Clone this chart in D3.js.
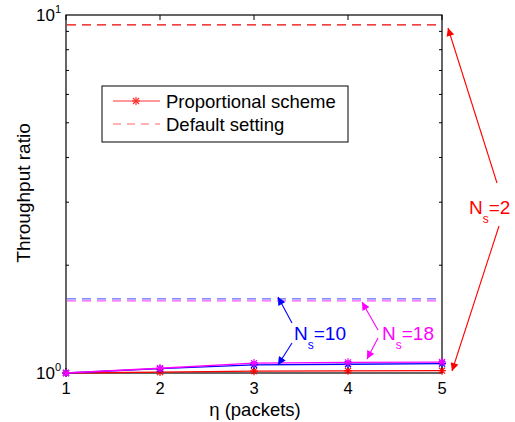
<!DOCTYPE html>
<html><head><meta charset="utf-8">
<script src="https://cdn.jsdelivr.net/npm/d3@7"></script>
<style>body{margin:0;background:#fff}svg{display:block;font-family:"Liberation Sans",Arial,sans-serif}</style>
</head><body><svg id="c" width="515" height="422"></svg>
<script>
const etaValues = [1, 2, 3, 4, 5];
const propNs2 = [1, 1.006, 1.012, 1.014, 1.015];
const propNs10 = [1, 1.028, 1.053, 1.058, 1.062];
const propNs18 = [1, 1.031, 1.066, 1.071, 1.073];
const defaultNs2 = 9.38;
const defaultNs10 = 1.61;
const defaultNs18 = 1.59;
const xTickLabels = ["1", "2", "3", "4", "5"];
const yMajorTicks = [1, 10];
const yMinorTicks = [2, 3, 4, 5, 6, 7, 8, 9];

const svg = d3.select("#c");
const L = 66, R = 442, T = 15, B = 373;
const x = d3.scaleLinear().domain([1, 5]).range([L, R]);
const y = d3.scaleLog().domain([1, 10]).range([B, T]);

const defs = svg.append("defs");
function marker(id, color) {
  defs.append("marker").attr("id", id).attr("viewBox", "0 0 10 10").attr("refX", 10).attr("refY", 5)
    .attr("markerWidth", 10).attr("markerHeight", 8).attr("markerUnits", "userSpaceOnUse").attr("orient", "auto")
    .append("path").attr("d", "M0,0 L10,5 L0,10 z").attr("fill", color);
}
marker("ar", "#ff0000"); marker("ab", "#0000ff"); marker("am", "#ff00ff");

svg.append("rect").attr("x", L).attr("y", T).attr("width", R - L).attr("height", B - T)
  .attr("fill", "none").attr("stroke", "#000").attr("stroke-width", 1.2);

const g = svg.append("g");
etaValues.forEach((v, i) => {
  g.append("line").attr("x1", x(v)).attr("x2", x(v)).attr("y1", B).attr("y2", B - 5).attr("stroke", "#000");
  g.append("line").attr("x1", x(v)).attr("x2", x(v)).attr("y1", T).attr("y2", T + 5).attr("stroke", "#000");
  g.append("text").attr("x", x(v)).attr("y", 394).attr("text-anchor", "middle").attr("font-size", 16.5).text(xTickLabels[i]);
});
yMinorTicks.forEach(v => {
  g.append("line").attr("x1", L).attr("x2", L + 3).attr("y1", y(v)).attr("y2", y(v)).attr("stroke", "#000");
  g.append("line").attr("x1", R).attr("x2", R - 3).attr("y1", y(v)).attr("y2", y(v)).attr("stroke", "#000");
});
yMajorTicks.forEach((v, i) => {
  const t = g.append("text").attr("x", 61).attr("y", y(v) + 6).attr("text-anchor", "end").attr("font-size", 17);
  t.append("tspan").text("10");
  t.append("tspan").attr("dy", -8).attr("font-size", 11).text(String(i));
});

svg.append("text").attr("x", 255).attr("y", 416).attr("text-anchor", "middle").attr("font-size", 18.5).text("η (packets)");
svg.append("text").attr("transform", "translate(30,193) rotate(-90)").attr("text-anchor", "middle").attr("font-size", 19).text("Throughput ratio");

const dashes = [[defaultNs2, "#ee0000"], [defaultNs10, "#6666ff"], [defaultNs18, "#ff55ff"]];
dashes.forEach(([v, c]) => {
  svg.append("line").attr("x1", L + 1).attr("x2", R - 1).attr("y1", y(v)).attr("y2", y(v))
    .attr("stroke", c).attr("stroke-width", 1.2).attr("stroke-dasharray", "9,6");
});

const line = d3.line().x((d, i) => x(etaValues[i])).y(d => y(d));
function star(sel, cx, cy, c) {
  const s = 4;
  [[0, s], [s, 0], [s * 0.75, s * 0.75], [s * 0.75, -s * 0.75]].forEach(([dx, dy]) => {
    sel.append("line").attr("x1", cx - dx).attr("x2", cx + dx).attr("y1", cy - dy).attr("y2", cy + dy)
      .attr("stroke", c).attr("stroke-width", 1.2);
  });
}
const series = [[propNs2, "#ff0000"], [propNs10, "#0000ff"], [propNs18, "#ff00ff"]];
series.forEach(([vals, c]) => {
  svg.append("path").datum(vals).attr("d", line).attr("fill", "none").attr("stroke", c).attr("stroke-width", 1.3);
  vals.forEach((v, i) => star(svg, x(etaValues[i]), y(v), c));
});

const lg = svg.append("g");
lg.append("rect").attr("x", 102).attr("y", 86).attr("width", 246).attr("height", 56).attr("fill", "#fff").attr("stroke", "#000");
lg.append("line").attr("x1", 113).attr("x2", 160).attr("y1", 101).attr("y2", 101).attr("stroke", "#ff3333").attr("stroke-width", 1.2);
star(lg, 136, 101, "#ff3333");
lg.append("text").attr("x", 166).attr("y", 108).attr("font-size", 18.5).text("Proportional scheme");
lg.append("line").attr("x1", 113).attr("x2", 160).attr("y1", 124).attr("y2", 124).attr("stroke", "#ff6666").attr("stroke-width", 1.2).attr("stroke-dasharray", "8,6");
lg.append("text").attr("x", 166).attr("y", 131).attr("font-size", 18.5).text("Default setting");

function label(xp, yp, num, c) {
  const t = svg.append("text").attr("x", xp).attr("y", yp).attr("font-size", 19).attr("fill", c);
  t.append("tspan").text("N");
  t.append("tspan").attr("dy", 9).attr("font-size", 12).text("s");
  t.append("tspan").attr("dy", -9).text("=" + num);
}
function arrow(x1, y1, x2, y2, c, m) {
  svg.append("line").attr("x1", x1).attr("y1", y1).attr("x2", x2).attr("y2", y2)
    .attr("stroke", c).attr("stroke-width", 1.1).attr("marker-end", "url(#" + m + ")");
}
label(469, 214, "2", "#ff0000");
arrow(497, 183, 448, 28, "#ff0000", "ar");
arrow(499, 226, 452, 371, "#ff0000", "ar");
label(294, 340, "10", "#0000ff");
arrow(292, 323, 278, 297, "#0000ff", "ab");
arrow(292, 343, 278, 365, "#0000ff", "ab");
label(382, 340, "18", "#ff00ff");
arrow(378, 330, 362, 302, "#ff00ff", "am");
arrow(378, 338, 367, 359, "#ff00ff", "am");
</script></body></html>
